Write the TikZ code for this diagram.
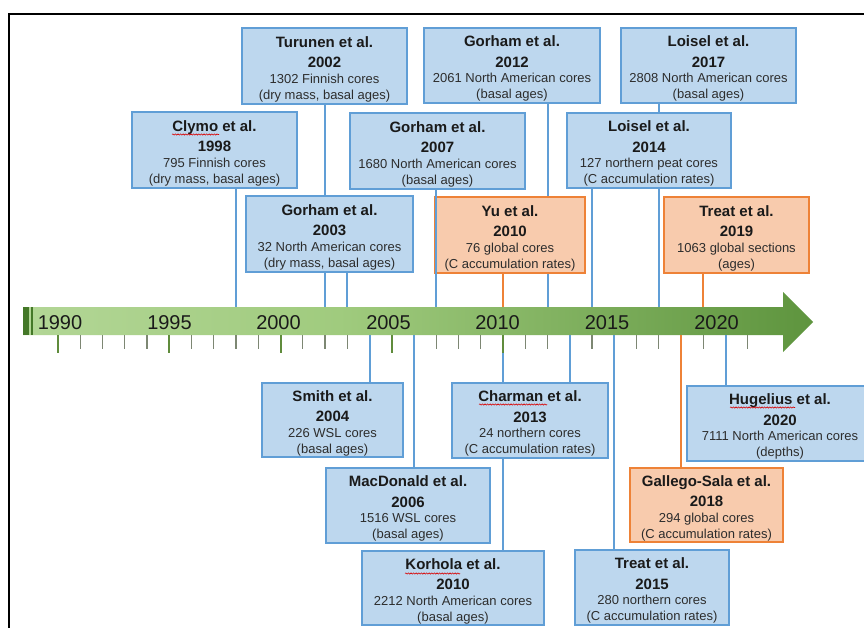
\documentclass[tikz,border=0pt]{standalone}
\usepackage{fontspec}
\setmainfont{Liberation Sans}
\usetikzlibrary{decorations.pathmorphing}
\definecolor{boxblue}{RGB}{189,215,238}
\definecolor{lineblue}{RGB}{96,158,214}
\definecolor{boxorange}{RGB}{248,203,173}
\definecolor{lineorange}{RGB}{238,130,55}
\definecolor{barA}{RGB}{202,228,180}
\definecolor{barB}{RGB}{160,203,126}
\definecolor{barC}{RGB}{96,150,64}
\definecolor{barD}{RGB}{68,120,40}
\definecolor{tickgreen}{RGB}{96,140,60}
\definecolor{tickgray}{RGB}{125,135,115}
\definecolor{txt}{RGB}{26,26,26}
\definecolor{bodytxt}{RGB}{45,45,45}
\pgfdeclarehorizontalshading{barshade}{100bp}{color(0bp)=(barA); color(45bp)=(barB); color(74bp)=(barC); color(100bp)=(barD)}
\newcommand{\ttl}{\fontsize{15}{16}\selectfont\bfseries\color{txt}}
\newcommand{\pp}[4]{{\ttl\rule{0pt}{17pt}#1}\\[4.5pt]{\ttl #2}\\[-0.5pt]{\color{bodytxt}#3}\\[0pt]{\color{bodytxt}#4}}
\tikzset{
  pbox/.style 2 args={draw=lineblue, fill=boxblue, line width=2pt, inner sep=0pt,
    minimum width=#1, minimum height=#2, align=center, text=txt,
    font=\fontsize{13}{16}\selectfont},
  obox/.style 2 args={pbox={#1}{#2}, draw=lineorange, fill=boxorange},
  bconn/.style={draw=lineblue, line width=2pt},
  oconn/.style={draw=lineorange, line width=2pt},
  majortick/.style={draw=tickgreen, line width=2pt},
  minortick/.style={draw=tickgray, line width=1.2pt},
  yearlab/.style={font=\fontsize{20}{24}\selectfont, text=txt, inner sep=0pt},
  squig/.style={draw=red!85!black, line width=0.6pt, decorate,
    decoration={snake, segment length=2.6pt, amplitude=0.6pt}}
}
\begin{document}
\begin{tikzpicture}[x=1pt,y=-1pt]
\useasboundingbox (0,0) rectangle (864,628);
\fill[white] (0,0) rectangle (864,628);
% frame
\draw[line width=2.5pt] (9,628) -- (9,13.8) -- (864,13.8);

% bar coordinates
\foreach \yr/\xx in {1998/236,2002/325,2003/347.25,2004/369.5,2006/414,2007/436.25,
  2010/503,2012/547.5,2013/569.75,2014/592,2015/614.25,2017/658.75,2018/681,
  2019/703.25,2020/725.5}{
  \coordinate (top\yr) at (\xx,307);
  \coordinate (bot\yr) at (\xx,335);
}

% timeline bar
\shade[shading=barshade]
  (23,307) -- (783,307) -- (783,292) -- (813,322) -- (783,352) -- (783,335) -- (23,335) -- cycle;
\fill[barD] (23,307) rectangle (29.3,335);
\fill[barD] (30.7,307) rectangle (33.3,335);
\foreach \i in {0,...,31}{
  \pgfmathtruncatemacro\m{mod(\i,5)}
  \ifnum\m=0
    \draw[majortick] (58+22.25*\i,335) -- (58+22.25*\i,353);
  \else
    \draw[minortick] (58+22.25*\i,335) -- (58+22.25*\i,349);
  \fi
}
\foreach \yr/\xx in {1990/60,1995/169.5,2000/278.5,2005/388.5,2010/497.5,2015/607,2020/716.5}{
  \node[yearlab] (lab\yr) at (\xx,322.5) {\yr};
}

% boxes
\node[pbox={165}{76}] (turunen) at (324.5,66) {\pp{Turunen et al.}{2002}{1302 Finnish cores}{(dry mass, basal ages)}};
\node[pbox={176}{75}] (gorhamA) at (512,65.5) {\pp{Gorham et al.}{2012}{2061 North American cores}{(basal ages)}};
\node[pbox={175}{75}] (loiselB) at (708.5,65.5) {\pp{Loisel et al.}{2017}{2808 North American cores}{(basal ages)}};
\node[pbox={165}{76}] (clymo) at (214.5,150) {\pp{Clymo et al.}{1998}{795 Finnish cores}{(dry mass, basal ages)}};
\node[pbox={175}{76}] (gorhamB) at (437.5,151) {\pp{Gorham et al.}{2007}{1680 North American cores}{(basal ages)}};
\node[pbox={164}{75}] (loiselA) at (649,150.5) {\pp{Loisel et al.}{2014}{127 northern peat cores}{(C accumulation rates)}};
\node[pbox={167}{76}] (gorhamC) at (329.5,234) {\pp{Gorham et al.}{2003}{32 North American cores}{(dry mass, basal ages)}};
\node[obox={150}{76}] (yu) at (510,235) {\pp{Yu et al.}{2010}{76 global cores}{(C accumulation rates)}};
\node[obox={145}{76}] (treatB) at (736.5,235) {\pp{Treat et al.}{2019}{1063 global sections}{(ages)}};
\node[pbox={141}{74}] (smith) at (332.5,420) {\pp{Smith et al.}{2004}{226 WSL cores}{(basal ages)}};
\node[pbox={156}{75}] (charman) at (530,420.5) {\pp{Charman et al.}{2013}{24 northern cores}{(C accumulation rates)}};
\node[pbox={186}{75}] (hugelius) at (780,423.5) {\pp{Hugelius et al.}{2020}{7111 North American cores}{(depths)}};
\node[pbox={164}{75}] (macdonald) at (408,505.5) {\pp{MacDonald et al.}{2006}{1516 WSL cores}{(basal ages)}};
\node[obox={153}{74}] (gallego) at (706.5,505) {\pp{Gallego-Sala et al.}{2018}{294 global cores}{(C accumulation rates)}};
\node[pbox={182}{74}] (korhola) at (453,588) {\pp{Korhola et al.}{2010}{2212 North American cores}{(basal ages)}};
\node[pbox={154}{75}] (treatA) at (652,587.5) {\pp{Treat et al.}{2015}{280 northern cores}{(C accumulation rates)}};

% connectors above the bar
\draw[bconn] (turunen.south -| top2002) -- (gorhamC.north -| top2002);
\draw[bconn] (gorhamC.south -| top2002) -- (top2002);
\draw[bconn] (gorhamA.south -| top2012) -- (yu.north -| top2012);
\draw[bconn] (yu.south -| top2012) -- (top2012);
\draw[bconn] (loiselB.south -| top2017) -- (loiselA.north -| top2017);
\draw[bconn] (loiselA.south -| top2017) -- (top2017);
\draw[bconn] (clymo.south -| top1998) -- (top1998);
\draw[bconn] (gorhamB.south -| top2007) -- (top2007);
\draw[bconn] (loiselA.south -| top2014) -- (top2014);
\draw[bconn] (gorhamC.south -| top2003) -- (top2003);
\draw[oconn] (yu.south -| top2010) -- (top2010);
\draw[oconn] (treatB.south -| top2019) -- (top2019);
% connectors below the bar
\draw[bconn] (bot2004) -- (smith.north -| bot2004);
\draw[bconn] (bot2006) -- (macdonald.north -| bot2006);
\draw[bconn] (bot2010) -- (charman.north -| bot2010);
\draw[bconn] (charman.south -| bot2010) -- (korhola.north -| bot2010);
\draw[bconn] (bot2013) -- (charman.north -| bot2013);
\draw[bconn] (bot2015) -- (treatA.north -| bot2015);
\draw[oconn] (bot2018) -- (gallego.north -| bot2018);
\draw[bconn] (bot2020) -- (hugelius.north -| bot2020);
% green tick mark that shows over the 2010 connector
\draw[majortick] (bot2010) -- ++(0,18);

% spell-check underlines
\draw[squig] (172,134.5) -- (219,134.5);
\draw[squig] (405,573.5) -- (460,573.5);
\draw[squig] (479,404.5) -- (547,404.5);
\draw[squig] (730,407.5) -- (795,407.5);
\end{tikzpicture}
\end{document}
